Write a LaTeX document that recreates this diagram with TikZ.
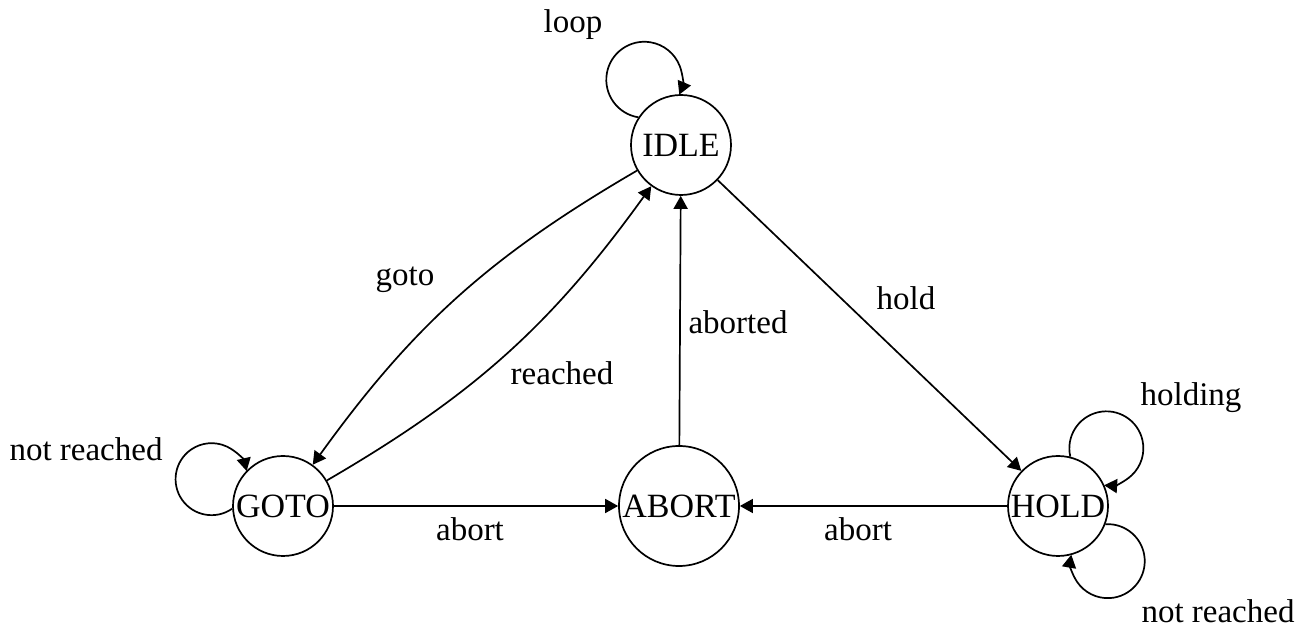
\documentclass[tikz,border=0pt]{standalone}
\usepackage{fontspec}
\setmainfont{Liberation Serif}
\usetikzlibrary{arrows.meta}
\tikzset{
  big/.style={font=\fontsize{33}{40}\selectfont},
  state/.style={font=\fontsize{34}{40}\selectfont, circle, draw, line width=1.7pt, inner sep=0pt},
  edge/.style={line width=1.7pt, -{Triangle[length=13pt,width=14pt]}},
  lbl/.style={big, anchor=base, inner sep=0pt}
}
\begin{document}
\begin{tikzpicture}[x=1pt,y=1pt]
\useasboundingbox (0,0) rectangle (1308,628);

% states
\node[state, minimum size=100pt] (idle)  at (681,483) {IDLE};
\node[state, minimum size=100pt] (goto)  at (283,122) {GOTO};
\node[state, minimum size=120pt] (abort) at (679,122) {ABORT};
\node[state, minimum size=100pt] (hold)  at (1058,122) {HOLD};

% self loops, drawn as circular arcs from the state back onto its border
\draw[edge] (idle.147) arc[start angle=261, end angle=-23, radius=38];
\draw[edge] (goto.183) arc[start angle=-55, end angle=-347, radius=36];
\draw[edge] (hold.76)  arc[start angle=193, end angle=-93.5, radius=37];
\draw[edge] (hold.-21) arc[start angle=93.5, end angle=-190, radius=37];

% transitions between states
\draw[edge] (idle) to[bend right=12] (goto);
\draw[edge] (goto) to[bend right=12] (idle);
\draw[edge] (goto) -- (abort);
\draw[edge] (abort) -- (idle);
\draw[edge] (idle) -- (hold);
\draw[edge] (hold) -- (abort);

% transition labels
\node[lbl] (lloop)    at (573,595)  {loop};
\node[lbl] (lgoto)    at (405,342)  {goto};
\node[lbl] (lreached) at (562,243)  {reached};
\node[lbl] (laborted) at (738,294)  {aborted};
\node[lbl] (lhold)    at (906,318)  {hold};
\node[lbl] (lnrgoto)  at (86,167)   {not reached};
\node[lbl] (labortl)  at (470,87)   {abort};
\node[lbl] (labortr)  at (858,87)   {abort};
\node[lbl] (lholding) at (1191,222) {holding};
\node[lbl] (lnrhold)  at (1218,5)   {not reached};
\end{tikzpicture}
\end{document}
